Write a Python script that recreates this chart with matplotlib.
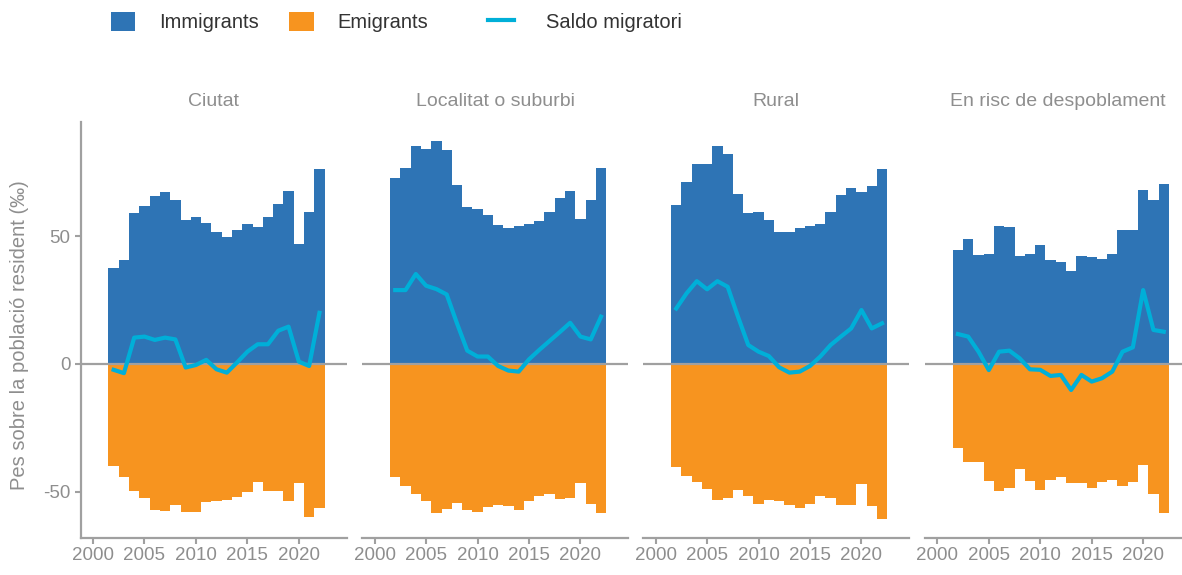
import matplotlib
matplotlib.use("Agg")
import matplotlib.pyplot as plt
from matplotlib.patches import Patch
from matplotlib.lines import Line2D

plt.rcParams['font.family'] = ['Liberation Sans', 'DejaVu Sans']

# ---------------- data ----------------
years = list(range(2002, 2023))
panel_names = ["Ciutat", "Localitat o suburbi", "Rural", "En risc de despoblament"]

imm_ciutat = [37.6, 40.6, 58.9, 61.8, 65.6, 67.1, 64.3, 56.5, 57.5, 55.3, 51.6,
              49.6, 52.3, 54.8, 53.4, 57.5, 62.4, 67.6, 46.9, 59.4, 76.4]
emi_ciutat = [-40.0, -44.4, -49.7, -52.5, -57.2, -57.7, -55.2, -58.1, -58.1, -54.0, -53.8,
              -53.3, -52.2, -50.3, -46.1, -49.9, -49.6, -53.6, -46.4, -59.9, -56.3]
net_ciutat = [-2.3, -3.6, 10.3, 10.7, 9.4, 10.3, 9.6, -1.4, -0.4, 1.6, -2.1,
              -3.4, 0.6, 4.8, 7.7, 7.7, 13.0, 14.6, 0.9, -0.8, 20.0]

imm_localitat = [72.9, 76.6, 85.4, 84.2, 87.4, 83.6, 70.0, 61.3, 60.5, 58.3, 54.3,
                 53.1, 53.8, 54.8, 56.1, 59.4, 64.8, 67.8, 56.6, 64.3, 76.8]
emi_localitat = [-44.1, -47.9, -51.0, -53.8, -58.3, -56.9, -54.6, -57.2, -58.1, -56.0, -55.2,
                 -55.7, -57.0, -53.8, -51.6, -51.0, -52.7, -52.5, -46.4, -54.8, -58.3]
net_localitat = [28.9, 28.9, 35.2, 30.6, 29.3, 27.2, 15.9, 5.2, 2.9, 2.9, -0.8,
                 -2.6, -3.0, 1.8, 5.5, 9.0, 12.5, 16.1, 10.7, 9.6, 18.5]

imm_rural = [62.1, 71.2, 78.4, 78.1, 85.4, 82.3, 66.4, 58.9, 59.4, 56.5, 51.6,
             51.6, 53.1, 54.0, 54.6, 59.4, 66.0, 68.9, 67.4, 69.8, 76.3]
emi_rural = [-40.4, -44.0, -46.1, -48.8, -53.3, -52.6, -49.4, -51.6, -54.8, -53.4, -53.6,
             -55.3, -56.3, -54.8, -51.8, -52.3, -55.3, -55.2, -47.0, -55.7, -60.7]
net_rural = [21.7, 27.6, 32.4, 29.2, 32.4, 30.2, 18.5, 7.4, 4.8, 3.1, -1.3,
             -3.4, -3.0, -0.8, 2.9, 7.4, 10.7, 13.9, 21.1, 13.9, 15.9]

imm_risc = [44.5, 48.8, 42.6, 43.2, 53.8, 53.4, 42.2, 43.2, 46.6, 40.5, 39.8,
            36.3, 42.1, 41.8, 41.1, 43.1, 52.3, 52.3, 68.0, 64.1, 70.3]
emi_risc = [-32.9, -38.5, -38.5, -45.7, -49.7, -48.4, -41.0, -45.7, -49.2, -45.6, -44.3,
            -46.7, -46.5, -48.6, -46.2, -45.4, -47.7, -46.2, -39.5, -50.9, -58.2]
net_risc = [11.7, 10.7, 4.8, -2.4, 4.8, 5.2, 2.2, -2.1, -2.3, -4.7, -4.3,
            -10.2, -4.3, -6.9, -5.6, -3.0, 4.8, 6.5, 28.9, 13.3, 12.6]

imm_all = [imm_ciutat, imm_localitat, imm_rural, imm_risc]
emi_all = [emi_ciutat, emi_localitat, emi_rural, emi_risc]
net_all = [net_ciutat, net_localitat, net_rural, net_risc]

x_ticks = [2000, 2005, 2010, 2015, 2020]
y_ticks = [-50, 0, 50]

# ---------------- style ----------------
BLUE = "#2E74B5"
ORANGE = "#F7941F"
CYAN = "#00AFD8"
AXGRAY = "#A0A0A0"
TXTGRAY = "#8E8E8E"

W, H = 1182, 575
fig = plt.figure(figsize=(W / 100, H / 100), dpi=100)

lefts = [80.7, 362.3, 643.3, 925.0]
pw = 266.0
top, bottom = 121.7, 537.7

for i in range(4):
    ax = fig.add_axes([lefts[i] / W, 1 - bottom / H, pw / W, (bottom - top) / H])
    ax.bar(years, imm_all[i], width=1.0, color=BLUE, linewidth=0, zorder=2)
    ax.bar(years, emi_all[i], width=1.0, color=ORANGE, linewidth=0, zorder=2)
    ax.axhline(0, color=AXGRAY, lw=1.6, zorder=3)
    ax.plot(years, net_all[i], color=CYAN, lw=3.0, zorder=4)
    ax.set_xlim(1998.8, 2024.65)
    ax.set_ylim(-68.0, 94.8)
    ax.set_xticks(x_ticks)
    ax.set_xticklabels([str(t) for t in x_ticks])
    for s in ["top", "right"]:
        ax.spines[s].set_visible(False)
    ax.spines["bottom"].set_color(AXGRAY)
    ax.spines["bottom"].set_linewidth(1.6)
    if i == 0:
        ax.spines["left"].set_color(AXGRAY)
        ax.spines["left"].set_linewidth(1.6)
        ax.set_yticks(y_ticks)
        ax.set_yticklabels([str(t) for t in y_ticks])
        ax.tick_params(axis="y", length=4.5, width=1.5, color=AXGRAY,
                       labelcolor=TXTGRAY, labelsize=13.5, pad=3)
    else:
        ax.spines["left"].set_visible(False)
        ax.set_yticks([])
    ax.tick_params(axis="x", length=4.5, width=1.5, color=AXGRAY,
                   labelcolor=TXTGRAY, labelsize=13.5, pad=2)
    ax.set_title(panel_names[i], color=TXTGRAY, fontsize=14, pad=11)
    ax.set_facecolor("white")

fig.text(20 / W, 1 - 335 / H, "Pes sobre la població resident (‰)", rotation=90,
         ha="center", va="center", color=TXTGRAY, fontsize=14.5)

h1 = [Patch(facecolor=BLUE, edgecolor="none", label="Immigrants"),
      Patch(facecolor=ORANGE, edgecolor="none", label="Emigrants")]
leg1 = fig.legend(handles=h1, loc="center left", bbox_to_anchor=(105 / W, 1 - 22 / H),
                  ncol=2, frameon=False, fontsize=14.5, handlelength=1.2, handleheight=1.05,
                  handletextpad=1.2, columnspacing=1.5, borderaxespad=0, borderpad=0.3)
for t in leg1.get_texts():
    t.set_color("#333333")
h2 = [Line2D([0], [0], color=CYAN, lw=3, label="Saldo migratori")]
leg2 = fig.legend(handles=h2, loc="center left", bbox_to_anchor=(482 / W, 1 - 22 / H),
                  ncol=1, frameon=False, fontsize=14.5, handlelength=1.3,
                  handletextpad=1.6, borderaxespad=0, borderpad=0.3)
for t in leg2.get_texts():
    t.set_color("#333333")

fig.savefig("out.png", dpi=100)
